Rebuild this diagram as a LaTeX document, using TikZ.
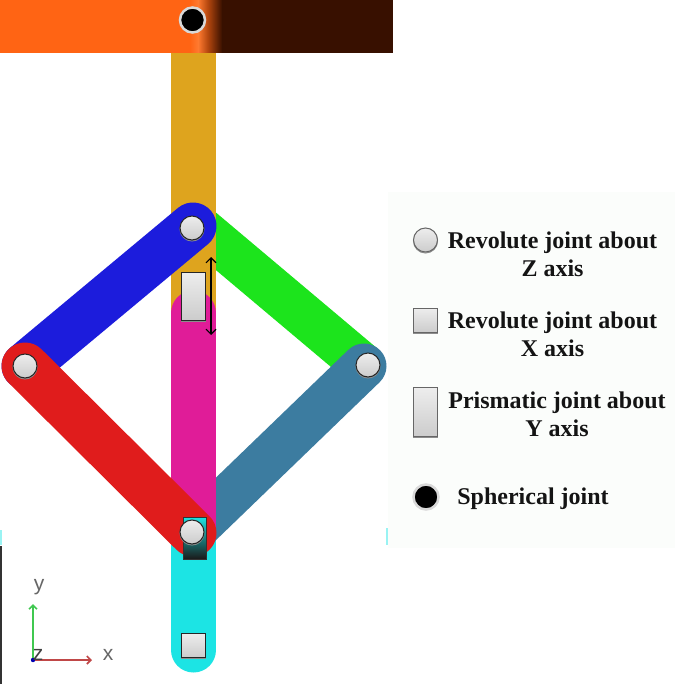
\documentclass[tikz,border=0pt]{standalone}
\usepackage{fontspec}
\setmainfont{Liberation Serif}
\setsansfont{Liberation Sans}
\usetikzlibrary{arrows.meta}
\definecolor{cTan}{HTML}{DEA41E}
\definecolor{cBlue}{HTML}{1C1CDC}
\definecolor{cGreen}{HTML}{1CE41C}
\definecolor{cRed}{HTML}{E01C1C}
\definecolor{cSteel}{HTML}{3C7CA0}
\definecolor{cMag}{HTML}{E01C98}
\definecolor{cCyan}{HTML}{1CE4E4}
\definecolor{cOrange}{HTML}{FF6414}
\definecolor{cLight}{HTML}{FF7A30}
\definecolor{cBrown}{HTML}{381000}
\definecolor{cLegend}{HTML}{FBFDFB}
\definecolor{cAxG}{HTML}{40C850}
\definecolor{cAxR}{HTML}{C04848}
\tikzset{
  x=1pt,y=-1pt,
  link/.style={line width=45pt,line cap=round},
  widelink/.style={line width=47pt,line cap=round},
  flatlink/.style={line width=44pt,line cap=butt},
  jointbody/.style={draw=black!85,line width=1pt,top color=white!93!black,bottom color=white!80!black,inner sep=0pt,outer sep=0pt,
    preaction={draw=black!45,line width=1pt,transform canvas={yshift=-1pt}}},
  revz/.style={jointbody,circle,minimum size=24pt},
  revx/.style={jointbody,rectangle,minimum size=24pt},
  pris/.style={jointbody,rectangle,minimum width=24pt,minimum height=48pt},
  sph/.style={circle,fill=black,draw=white!85!black,line width=2.5pt,minimum size=25pt,inner sep=0pt},
  legtext/.style={font=\fontsize{24}{28}\selectfont\bfseries,align=center,text=black!92,inner sep=0pt},
  axlabel/.style={font=\fontsize{21}{21}\sffamily,text=black!60,inner sep=0pt},
}
\begin{document}
\begin{tikzpicture}
\useasboundingbox (0,0) rectangle (677,684);
\fill[white] (0,0) rectangle (677,684);
\fill[cLegend] (388,192) rectangle (675,548);
% named link ends
\coordinate (top) at (193.5,53);
\coordinate (J1) at (192,228);
\coordinate (J1b) at (193,226);
\coordinate (J1g) at (193,222);
\coordinate (J2) at (25,366);
\coordinate (J3) at (368,365);
\coordinate (J3s) at (364,366);
\coordinate (J4) at (192,532);
\coordinate (J4r) at (193,533);
\coordinate (magtop) at (193.5,313);
\coordinate (cyanend) at (193.5,650);
\coordinate (magend) at (193.5,532);
\coordinate (tanend) at (193.5,320);
% top bar
\fill[cOrange] (0,0) rectangle (190,53);
\fill[cBrown] (222,0) rectangle (393,53);
\shade[left color=cOrange,right color=cLight] (190,0) rectangle (198,53);
\shade[left color=cLight,right color=cOrange!70!black] (198,0) rectangle (208,53);
\shade[left color=cOrange!70!black,right color=cBrown] (208,0) rectangle (222.2,53);
% links
\draw[flatlink,cGreen] (J1g) -- (J3s);
\draw[flatlink,line width=45pt,cTan] (top) -- (tanend);
\draw[link,cCyan] (magend) -- (cyanend);
\draw[link,cSteel] (J3s) -- (J4);
\draw[link,cMag] (magtop) -- (magend);
\draw[widelink,cBlue] (J1b) -- (J2);
\draw[widelink,cRed] (J2) -- (J4r);
% covered slider at the bottom joint
\shade[top color=cCyan,middle color=cCyan!55!black,bottom color=black!90,draw=black!80] (183,517) rectangle (206,559);
% joints
\node[sph] (s0) at (192.5,20) {};
\node[revz] (r1) at (J1) {};
\node[revz] (r2) at (J2) {};
\node[revz] (r3) at (J3) {};
\node[revz] (r4) at (J4) {};
\node[pris] (p1) at (193,296) {};
\node[revx] (x1) at (193,645) {};
% motion arrow
\coordinate (mv1) at (211,257);
\coordinate (mv2) at (211,335);
\draw[black,line width=1.1pt,{Straight Barb[length=5pt,width=10pt]}-{Straight Barb[length=5pt,width=10pt]}] (mv1) -- (mv2);
% axes
\fill[black!80] (0,546) rectangle (2,684);
\fill[cCyan!45] (0,530) rectangle (1.5,545);
\fill[cCyan!45] (386,528) rectangle (387.5,545);
\coordinate (ax0) at (33,660);
\coordinate (axy) at (33,604);
\coordinate (axx) at (92,660);
\draw[cAxG,line width=1.6pt,-{Straight Barb[length=4pt,width=8pt]}] (ax0) -- (axy);
\draw[cAxR,line width=1.6pt,-{Straight Barb[length=4pt,width=8pt]}] (ax0) -- (axx);
\fill[blue!70!black] (ax0) circle (2.2);
\node[axlabel] (ly) at (39,587) {y};
\node[axlabel] (lx) at (108,655) {x};
\node[axlabel,text=black!75] (lz) at (38,655) {z};
% legend
\node[revz,draw=black!60] (k1) at (425.5,240) {};
\node[revx,draw=black!60] (k2) at (425.5,320) {};
\node[pris,draw=black!60,minimum height=49pt] (k3) at (425.5,412) {};
\node[sph] (k4) at (426,497) {};
\node[legtext] (t1) at (552.5,254.5) {Revolute joint about\\Z axis};
\node[legtext] (t2) at (552.5,334.5) {Revolute joint about\\X axis};
\node[legtext] (t3) at (557,414.5) {Prismatic joint about\\Y axis};
\node[legtext] (t4) at (533,499) {Spherical joint};
\end{tikzpicture}
\end{document}
